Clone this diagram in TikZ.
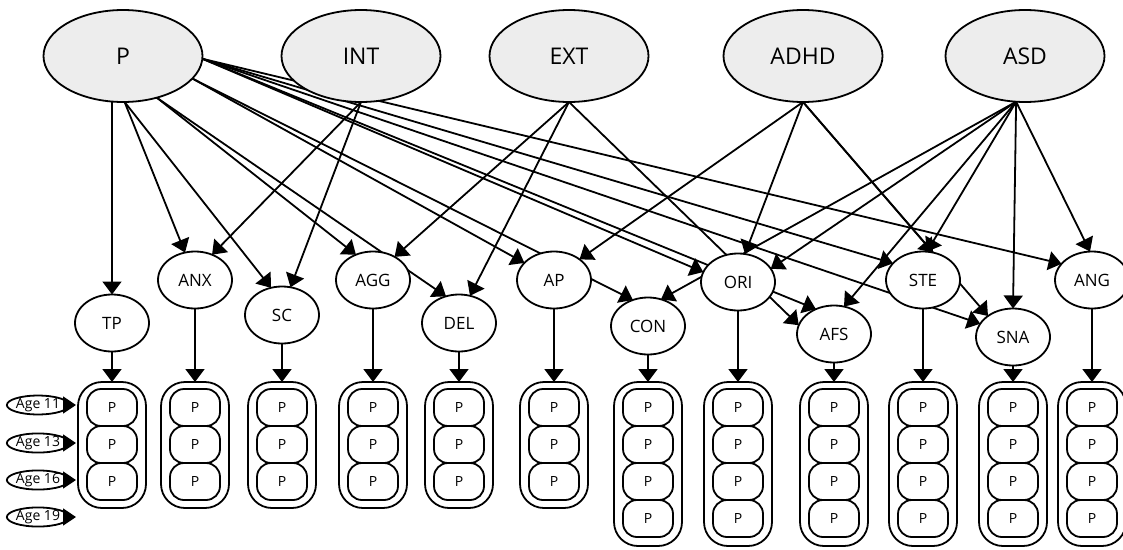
\documentclass[tikz,border=0pt]{standalone}
\usepackage{fontspec}
\setmainfont{Open Sans}
\usetikzlibrary{shapes.geometric,arrows.meta}
\pgfdeclarelayer{background}
\pgfsetlayers{background,main}
\begin{document}
\begin{tikzpicture}[x=1pt,y=-1pt,
  lw/.style={line width=1.8pt},
  latent/.style={ellipse,draw,lw,fill=black!7,minimum width=159pt,minimum height=92pt,inner sep=0pt,outer sep=0pt,font=\fontsize{23}{23}\selectfont},
  symp/.style={ellipse,draw,lw,fill=white,minimum width=74pt,minimum height=57pt,inner sep=0pt,outer sep=0pt,font=\fontsize{17}{17}\selectfont},
  outerbox/.style={draw,lw,fill=white,rounded corners=24pt,minimum width=68pt,inner sep=0pt,outer sep=0pt,anchor=north},
  pbox/.style={draw,lw,fill=white,rounded corners=14pt,minimum width=50pt,minimum height=37pt,inner sep=0pt,outer sep=0pt,font=\fontsize{14}{14}\selectfont},
  agel/.style={ellipse,draw,lw,fill=white,minimum width=50pt,minimum height=18pt,inner sep=0pt,outer sep=0pt,font=\fontsize{14}{14}\selectfont},
  conn/.style={lw,-{Triangle[length=13pt,width=19pt]}},
  agearr/.style={lw,-{Triangle[length=13pt,width=17pt]}},
]
\useasboundingbox (0,0) rectangle (1123,549);

% latent factors
\node[latent] (P) at (123,56) {P};
\node[latent] (INT) at (361,56) {INT};
\node[latent] (EXT) at (569,56) {EXT};
\node[latent] (ADHD) at (803,56) {ADHD};
\node[latent] (ASD) at (1025,56) {ASD};

% symptom scales
\node[symp] (TP) at (112,323) {TP};
\node[symp] (ANX) at (195,280) {ANX};
\node[symp] (SC) at (282,315) {SC};
\node[symp] (AGG) at (373,280) {AGG};
\node[symp] (DEL) at (459,323) {DEL};
\node[symp] (AP) at (554,280) {AP};
\node[symp] (CON) at (648,326) {CON};
\node[symp] (ORI) at (738,282) {ORI};
\node[symp] (AFS) at (834,334) {AFS};
\node[symp] (STE) at (923,280) {STE};
\node[symp] (SNA) at (1013,337) {SNA};
\node[symp] (ANG) at (1092,280) {ANG};

% measurement boxes: 3 waves
\foreach \n/\x in {TP/112,ANX/195,SC/282,AGG/373,DEL/459,AP/554}{
  \node[outerbox,minimum height=126pt] (b\n) at (\x,382) {};
  \foreach \i/\y in {1/407.5,2/444.5,3/481.5}
    \node[pbox] (b\n\i) at (\x,\y) {P};
}
% measurement boxes: 4 waves
\foreach \n/\x in {CON/648,ORI/738,AFS/834,STE/923,SNA/1013,ANG/1092}{
  \node[outerbox,minimum height=164pt] (b\n) at (\x,382) {};
  \foreach \i/\y in {1/407.5,2/444.5,3/481.5,4/518.5}
    \node[pbox] (b\n\i) at (\x,\y) {P};
}

% age labels
\node[agel] (a11) at (38,405) {Age 11};
\node[agel] (a13) at (38,443) {Age 13};
\node[agel] (a16) at (38,480) {Age 16};
\node[agel] (a19) at (38,517) {Age 19};
\coordinate (t11) at (76,405);
\coordinate (t13) at (76,443);
\coordinate (t16) at (76,480);
\coordinate (t19) at (76,517);
\draw[agearr] (a11.east) -- (t11);
\draw[agearr] (a13.east) -- (t13);
\draw[agearr] (a16.east) -- (t16);
\draw[agearr] (a19.east) -- (t19);

\begin{pgfonlayer}{background}
% P loadings
\draw[conn] (P.south -| TP.north) -- (TP.north);
\draw[conn] (P.-88) -- (ANX.110);
\draw[conn] (P.-88) -- (SC.112);
\draw[conn] (P.-51) -- (AGG.124);
\draw[conn] (P.-51) -- (DEL.116);
\draw[conn] (P.-18) -- (AP.150);
\draw[conn] (P.-18) -- (CON.120);
\draw[conn] (P.-2) -- (ORI.164);
\draw[conn] (P.-2) -- (AFS.126);
\draw[conn] (P.-2) -- (STE.151);
\draw[conn] (P.-2) -- (SNA.158);
\draw[conn] (P.-2) -- (ANG.152);
% INT
\draw[conn] (INT.south) -- (ANX.56);
\draw[conn] (INT.south) -- (SC.73);
% EXT
\draw[conn] (EXT.south) -- (AGG.47);
\draw[conn] (EXT.south) -- (DEL.68);
\draw[conn] (EXT.south) -- (AFS.166);
% ADHD
\draw[conn] (ADHD.south) -- (AP.39);
\draw[conn] (ADHD.south) -- (ORI.76);
\draw[conn] (ADHD.south) -- (STE.70);
\draw[conn] (ADHD.south) -- (SNA.140);
% ASD
\draw[conn] (ASD.-101) -- (CON.64);
\draw[conn] (ASD.-101) -- (ORI.22);
\draw[conn] (ASD.-101) -- (AFS.70);
\draw[conn] (ASD.-101) -- (STE.82);
\draw[conn] (ASD.-101) -- (SNA.north);
\draw[conn] (ASD.-101) -- (ANG.94);
% symptom scale to measurement boxes
\foreach \n in {TP,ANX,SC,AGG,DEL,AP,CON,ORI,AFS,STE,SNA,ANG}
  \draw[conn] (\n.south) -- (b\n.north);
\end{pgfonlayer}
\end{tikzpicture}
\end{document}
